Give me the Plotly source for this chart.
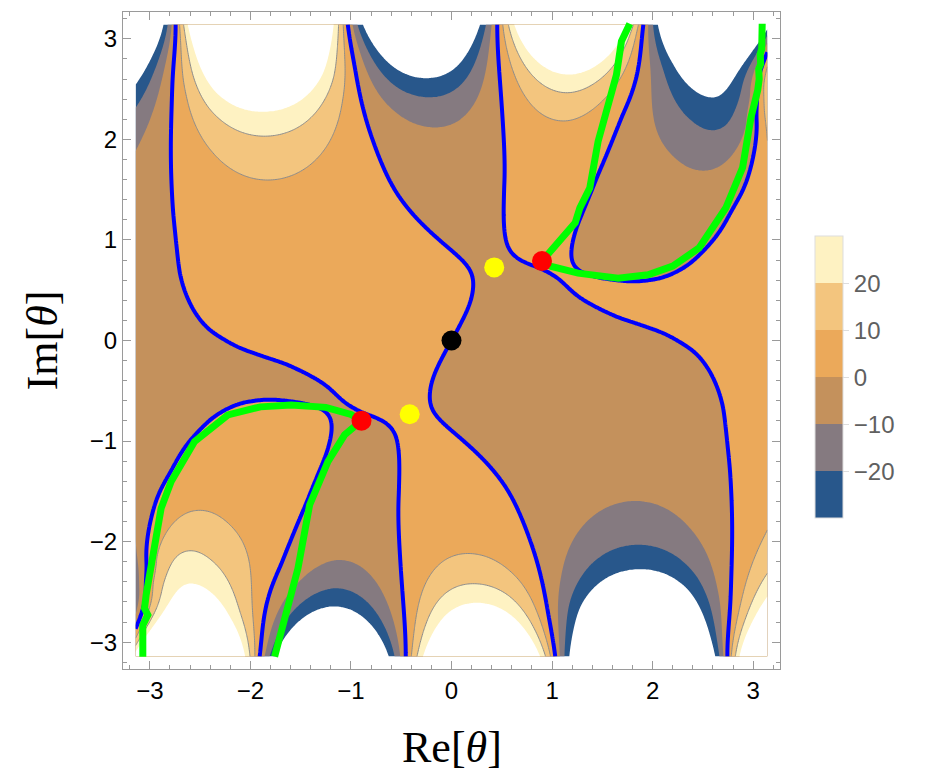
import numpy as np
import plotly.graph_objects as go

# points of the Im S = 0 level (blue / green lines)
zero_x = [-1.03, -0.42, -0.588, -0.305, 0.029, 0.179, 0.195, 0.095, -0.188, -0.138, 0.195, 0.529, 0.76, 0.96, 1.03,
          0.456, 0.51, 0.495, 0.545, 0.662, 0.812, 0.995, 1.262, 1.662, 1.962, 2.262,
          -2.73, -2.77, -2.738, -2.571, -2.238, -1.738, -1.238, 2.78, 2.73,
          1.23, 1.329, 1.479, 1.905, -1.893, -1.66, -1.378,
          1.662, 1.962, 2.462, 2.729, 2.895, 2.979, 3.045,
          -1.594, -2.224, -2.555, -2.788, -2.888, -3.003]
zero_y = [3.144, 1.32, 1.52, 1.187, 0.853, 0.653, 0.52, 0.187, -0.547, -0.747, -1.08, -1.447, -1.95, -2.61, -3.144,
          3.144, 1.32, 1.52, 1.087, 0.87, 0.803, 0.653, 0.387, 0.187, 0.07, -0.08,
          3.144, 1.32, 0.653, 0.32, 0.053, -0.18, -0.447, -1.28, -3.144,
          1.17, 1.32, 1.52, 3.144, -3.144, -2.27, -1.60,
          0.62, 0.653, 0.92, 1.32, 1.72, 2.22, 2.487,
          -0.641, -0.74, -1.005, -1.403, -1.669, -2.266]

# points of the other levels (band edges)
p30_x = [-1.821, -2.638, -1.145, -2.405, -1.238, 0.612, 1.162, 1.695, 1.749, 3.14]
p30_y = [2.303, 3.144, 3.144, 2.487, 2.653, 3.144, 2.637, 2.987, 3.144, 2.54]
p20_x = [-1.821, -2.571, -2.305, -1.371, -1.155, 1.162, 3.14, -2.69, -1.10, 0.555, 1.806]
p20_y = [2.037, 2.587, 2.22, 2.253, 2.653, 2.447, 2.30, 3.144, 3.144, 3.144, 3.144]
p10_x = [-1.821, -2.605, -2.371, -1.305, -1.105, 1.162, 3.14, -2.71, -1.065, 0.512, 1.856]
p10_y = [1.597, 2.453, 1.887, 1.853, 2.387, 2.17, 1.92, 3.144, 3.144, 3.144, 3.144]
m10_x = [-3.14, -2.905, -0.571, -0.238, 0.062, 2.295, 2.629, 2.879, -2.778, -1.005, 0.396, 1.955]
m10_y = [1.92, 2.487, 2.32, 2.137, 2.17, 1.887, 1.67, 1.687, 3.144, 3.144, 3.144, 3.144]
m20_x = [-3.14, -2.971, -0.571, -0.238, 0.062, 2.162, 2.462, 2.762, 2.962, -2.805, -0.971, 0.346, 2.005]
m20_y = [2.32, 2.653, 2.52, 2.437, 2.503, 2.72, 2.253, 2.103, 2.153, 3.144, 3.144, 3.144, 3.144]
m30_x = [-2.855, -3.005, -3.14, -0.905, -0.571, -0.238, 0.062, 0.296, 2.07, 2.229, 2.462, 2.695, 2.962]
m30_y = [3.144, 2.82, 2.537, 3.144, 2.72, 2.613, 2.703, 3.144, 3.144, 2.653, 2.453, 2.353, 2.42]

# a few points inside the brown band along the left edge
band_x = [-3.14, -3.14, -3.14]
band_y = [0.0, 1.0, -1.0]
band_v = [-4.0, -5.0, -5.0]

red_x = [0.90, -0.895]
red_y = [0.79, -0.797]
yellow_x = [0.425, -0.416]
yellow_y = [0.727, -0.733]
black_x = [0.0]
black_y = [0.0]

# thimbles (green)
g1_x = [0.90, 1.03, 1.23, 1.276, 1.375, 1.458, 1.557, 1.64, 1.69, 1.773]
g1_y = [0.79, 0.95, 1.17, 1.316, 1.515, 1.98, 2.31, 2.64, 2.975, 3.15]
g2_x = [0.90, 0.993, 1.259, 1.657, 1.955, 2.2, 2.462, 2.729, 2.895, 2.979, 3.045, 3.06, 3.055, 3.075, 3.07, 3.085, 3.09]
g2_y = [0.79, 0.736, 0.67, 0.62, 0.653, 0.74, 0.92, 1.32, 1.72, 2.22, 2.487, 2.6, 2.7, 2.75, 2.85, 2.9, 3.15]
g3_x = [-0.895, -1.063, -1.229, -1.328, -1.411, -1.527, -1.64, -1.759]
g3_y = [-0.797, -0.939, -1.204, -1.45, -1.636, -2.266, -2.7, -3.144]
g4_x = [-0.895, -1.0, -1.25, -1.594, -1.9, -2.224, -2.555, -2.788, -2.888, -3.003, -3.037, -3.053, -3.02, -3.07, -3.07]
g4_y = [-0.797, -0.735, -0.665, -0.641, -0.66, -0.74, -1.005, -1.403, -1.669, -2.266, -2.531, -2.664, -2.73, -2.83, -3.144]

freqs = [0.5, 1.0, 1.5, 2.0, 2.5]
band_colors = ['#28578b', '#857a80', '#c4915c', '#eba95a', '#f3c57e', '#fef2c2']


def basis(t):
    cols = [np.sin(k * t) for k in freqs] + [t, t * np.cos(t), t * np.cos(2 * t)]
    return np.stack(cols, axis=-1)


def dbasis(t):
    cols = [k * np.cos(k * t) for k in freqs] + [np.ones_like(t), np.cos(t) - t * np.sin(t),
                                                 np.cos(2 * t) - 2 * t * np.sin(2 * t)]
    return np.stack(cols, axis=-1)


sets = [(zero_x, zero_y, 0), (p30_x, p30_y, 30), (p20_x, p20_y, 20), (p10_x, p10_y, 10),
        (m10_x, m10_y, -10), (m20_x, m20_y, -20), (m30_x, m30_y, -30), (red_x, red_y, 0)]
px = np.concatenate([np.array(s[0]) for s in sets] + [np.array(band_x)])
py = np.concatenate([np.array(s[1]) for s in sets] + [np.array(band_y)])
lv = np.concatenate([np.full(len(s[0]), s[2], float) for s in sets] + [np.array(band_v)])

# smooth odd analytic base: Im S(theta) fitted to the level points
t = px + 1j * py
B = basis(t)
A = np.hstack([B.imag, B.real])
ts = np.array([red_x[0] + 1j * red_y[0]])
Ds = dbasis(ts)
Acon = np.vstack([np.hstack([Ds.real, -Ds.imag]), np.hstack([Ds.imag, Ds.real])])
nb = A.shape[1]
scale = np.sqrt(np.mean(A ** 2, axis=0))
w = np.ones(len(lv))
lw = np.where(lv == 0, 1.0, 2.0)
for it in range(12):
    M = np.vstack([A * (w * lw)[:, None], Acon * 10, 0.01 * np.diag(scale)])
    rhs = np.concatenate([lv * w * lw, np.zeros(2), np.zeros(nb)])
    sol = np.linalg.lstsq(M, rhs, rcond=None)[0]
    coef = sol[:nb // 2] + 1j * sol[nb // 2:]
    w = 1.0 / np.maximum(np.abs(dbasis(t) @ coef), 0.5)

# thin-plate correction so the read level points sit on their levels (F is odd: mirror the points)
qx = np.concatenate([px, -px])
qy = np.concatenate([py, -py])
ql = np.concatenate([lv, -lv])
r = ql - (basis(qx + 1j * qy) @ coef).imag


def tps(d):
    with np.errstate(divide='ignore', invalid='ignore'):
        return np.where(d > 0, d * d * np.log(d), 0.0)


nq = len(qx)
K = tps(np.hypot(qx[:, None] - qx[None, :], qy[:, None] - qy[None, :])) + 0.3 * np.eye(nq)
P = np.stack([np.ones(nq), qx, qy], axis=1)
Mt = np.block([[K, P], [P.T, np.zeros((3, 3))]])
wt = np.linalg.lstsq(Mt, np.concatenate([r, np.zeros(3)]), rcond=None)[0]

n = 361
xs = np.linspace(-np.pi, np.pi, n)
ys = np.linspace(-np.pi, np.pi, n)
Z = np.empty((n, n))
for i, yv in enumerate(ys):
    row = (basis(xs + 1j * yv) @ coef).imag
    d = np.hypot(xs[:, None] - qx[None, :], yv - qy[None, :])
    row += tps(d) @ wt[:nq] + wt[nq] + wt[nq + 1] * xs + wt[nq + 2] * yv
    Z[i] = row
Z = np.clip(Z, -100, 100).astype(np.float32)

# fill colours; values below -30 and above 30 stay white
stops = [-35, -30, -20, -10, 0, 10, 20, 30, 35]
fill_cols = ['white'] + band_colors + ['white']
cs_fill = []
for i, c in enumerate(fill_cols):
    cs_fill.append([(stops[i] + 35) / 70, c])
    cs_fill.append([(stops[i + 1] + 35) / 70, c])

fig = go.Figure()
fig.add_trace(go.Contour(x=xs, y=ys, z=Z, autocontour=False,
                         contours=dict(start=-30, end=30, size=10, coloring='fill', showlines=False),
                         colorscale=cs_fill, showscale=False, line=dict(width=0), hoverinfo='skip'))
fig.add_trace(go.Contour(x=xs, y=ys, z=Z, autocontour=False,
                         contours=dict(start=10, end=20, size=10, coloring='none'),
                         line=dict(color='#8c8c8c', width=1), showscale=False, hoverinfo='skip'))
fig.add_trace(go.Contour(x=xs, y=ys, z=Z, autocontour=False,
                         contours=dict(start=0, end=0.5, size=1, coloring='none'),
                         line=dict(color='#0000ff', width=4), showscale=False, hoverinfo='skip'))
for gx, gy in [(g1_x, g1_y), (g2_x, g2_y), (g3_x, g3_y), (g4_x, g4_y)]:
    fig.add_trace(go.Scatter(x=gx, y=gy, mode='lines', line=dict(color='#00ff00', width=7), hoverinfo='skip'))
fig.add_trace(go.Scatter(x=black_x, y=black_y, mode='markers', marker=dict(size=20, color='black')))
fig.add_trace(go.Scatter(x=red_x, y=red_y, mode='markers', marker=dict(size=20, color='#ff0000')))
fig.add_trace(go.Scatter(x=yellow_x, y=yellow_y, mode='markers', marker=dict(size=20, color='#ffff00')))

# colour legend
cs_bar = []
for i, c in enumerate(band_colors):
    cs_bar.append([i / 6, c])
    cs_bar.append([(i + 1) / 6, c])
fig.add_trace(go.Scatter(x=[0], y=[0], mode='markers', hoverinfo='skip',
                         marker=dict(size=0.1, opacity=0, color=[0], cmin=-30, cmax=30, colorscale=cs_bar,
                                     showscale=True,
                                     colorbar=dict(x=1.054, xanchor='left', y=0.444, yanchor='middle', xpad=0, ypad=0,
                                                   len=282, lenmode='pixels', thickness=28,
                                                   tickvals=[-20, -10, 0, 10, 20], ticks='outside', ticklen=6,
                                                   tickcolor='#dddddd', outlinewidth=1, outlinecolor='#dddddd',
                                                   tickfont=dict(family='Liberation Sans', size=24, color='#606060')))))
bar_lines = []
for v in [0, 10, 20]:
    yp = 0.444 + (v / 60.0) * 282 / 657
    bar_lines.append(dict(type='line', xref='paper', yref='paper', x0=1.054, x1=1.054 + 28 / 657,
                          y0=yp, y1=yp, line=dict(color='#9a9a9a', width=1)))

axis = dict(range=[-3.267, 3.267], showline=True, mirror='ticks', linecolor='#9a9a9a', linewidth=1,
            ticks='inside', ticklen=8, tickcolor='#9a9a9a', tickmode='linear', tick0=0, dtick=1,
            minor=dict(ticks='inside', ticklen=4, tickcolor='#9a9a9a', dtick=0.2, tick0=0, showgrid=False),
            showgrid=False, zeroline=False, tickfont=dict(family='Liberation Sans', size=24, color='black'))
fig.update_xaxes(**axis)
fig.update_yaxes(**axis)
fig.update_layout(width=926, height=780, margin=dict(l=115, r=154, t=4, b=119),
                  plot_bgcolor='white', paper_bgcolor='white', showlegend=False, shapes=bar_lines,
                  annotations=[dict(text='Re[<i>θ</i>]', x=0.5, y=-0.12, xref='paper', yref='paper',
                                    xanchor='center', yanchor='middle',
                                    showarrow=False, font=dict(family='Liberation Serif', size=44, color='black')),
                               dict(text='Im[<i>θ</i>]', x=-0.122, y=0.5, xref='paper', yref='paper', textangle=-90,
                                    xanchor='center', yanchor='middle',
                                    showarrow=False, font=dict(family='Liberation Serif', size=44, color='black'))])
fig.write_html("out.html")
